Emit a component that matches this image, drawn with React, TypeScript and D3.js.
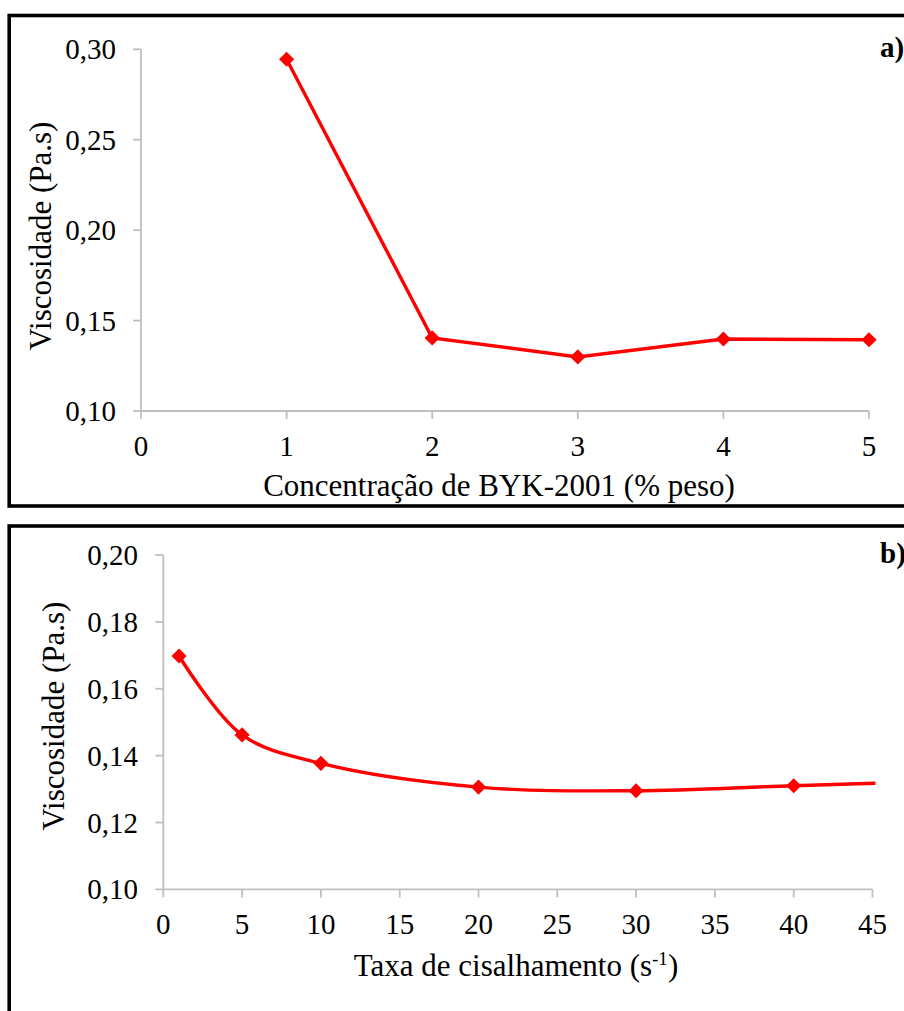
import React from "react";
import * as d3 from "d3";

// Panel a data
const concX: number[] = [1, 2, 3, 4, 5];
const concVisc: number[] = [0.2945, 0.1404, 0.1299, 0.1398, 0.1394];
const aXTicks: number[] = [0, 1, 2, 3, 4, 5];
const aYTicks: number[] = [0.1, 0.15, 0.2, 0.25, 0.3];

// Panel b data
const shearX: number[] = [1, 5, 10, 20, 30, 40, 50];
const shearVisc: number[] = [0.1698, 0.1462, 0.1377, 0.1306, 0.1295, 0.131, 0.1324];
const bXTicks: number[] = [0, 5, 10, 15, 20, 25, 30, 35, 40, 45];
const bYTicks: number[] = [0.1, 0.12, 0.14, 0.16, 0.18, 0.2];

const FONT = "'Liberation Serif', 'Times New Roman', serif";
const AXIS = "#BFBFBF";
const RED = "#FF0000";
const fmt = (v: number) => v.toFixed(2).replace(".", ",");

type PanelProps = {
  xs: number[];
  ys: number[];
  xDomain: [number, number];
  yDomain: [number, number];
  xRange: [number, number];
  yRange: [number, number];
  xTicks: number[];
  yTicks: number[];
  smooth: boolean;
  clipId: string;
  yLabelPos: [number, number];
  yLabelSize: number;
  xTitleY: number;
  xTitleX: number;
  xTitle: React.ReactNode;
  tag: string;
  tagY: number;
  yTickLabelX: number;
};

function Panel(p: PanelProps) {
  const x = d3.scaleLinear().domain(p.xDomain).range(p.xRange);
  const y = d3.scaleLinear().domain(p.yDomain).range(p.yRange);
  const pts: [number, number][] = p.xs.map((v, i) => [x(v), y(p.ys[i])]);
  const line = d3
    .line<[number, number]>()
    .x((d) => d[0])
    .y((d) => d[1])
    .curve(p.smooth ? d3.curveCatmullRom.alpha(0.5) : d3.curveLinear);
  const diamond = d3.symbol().type(d3.symbolSquare).size(115)();
  const [x0, x1] = p.xRange;
  const [yb, yt] = p.yRange;
  return (
    <g>
      <defs>
        <clipPath id={p.clipId}>
          <rect x={x0} y={yt - 10} width={x1 - x0 + 3} height={yb - yt + 10} />
        </clipPath>
      </defs>
      <line x1={x0} x2={x1} y1={yb} y2={yb} stroke={AXIS} strokeWidth={1.8} />
      <line x1={x0} x2={x0} y1={yt} y2={yb} stroke={AXIS} strokeWidth={1.8} />
      {p.yTicks.map((t) => (
        <g key={"y" + t}>
          <line x1={x0 - 8} x2={x0} y1={y(t)} y2={y(t)} stroke={AXIS} strokeWidth={1.8} />
          <text
            x={p.yTickLabelX}
            y={y(t) + 10}
            textAnchor="end"
            fontSize={29}
            fontFamily={FONT}
            fill="#000"
          >
            {fmt(t)}
          </text>
        </g>
      ))}
      {p.xTicks.map((t) => (
        <g key={"x" + t}>
          <line x1={x(t)} x2={x(t)} y1={yb} y2={yb + 8} stroke={AXIS} strokeWidth={1.8} />
          <text
            x={x(t)}
            y={yb + 45}
            textAnchor="middle"
            fontSize={29}
            fontFamily={FONT}
            fill="#000"
          >
            {t}
          </text>
        </g>
      ))}
      <g clipPath={`url(#${p.clipId})`}>
        <path d={line(pts) || ""} fill="none" stroke={RED} strokeWidth={3.4} />
      </g>
      {pts
        .filter((d) => d[0] <= x1 + 0.5)
        .map((d, i) => (
          <path
            key={"m" + i}
            d={diamond || ""}
            transform={`translate(${d[0]},${d[1]}) rotate(45)`}
            fill={RED}
          />
        ))}
      <text
        transform={`translate(${p.yLabelPos[0]},${p.yLabelPos[1]}) rotate(-90)`}
        textAnchor="middle"
        fontSize={p.yLabelSize}
        fontFamily={FONT}
        fill="#000"
      >
        Viscosidade (Pa.s)
      </text>
      <text
        x={p.xTitleX}
        y={p.xTitleY}
        textAnchor="middle"
        fontSize={31}
        fontFamily={FONT}
        fill="#000"
      >
        {p.xTitle}
      </text>
      <text
        x={880}
        y={p.tagY}
        fontSize={29}
        fontWeight="bold"
        fontFamily={FONT}
        fill="#000"
      >
        {p.tag}
      </text>
    </g>
  );
}

export default function App() {
  return (
    <svg
      width={904}
      height={1011}
      style={{ position: "absolute", left: 0, top: 0, background: "#fff" }}
    >
      <rect x={0} y={0} width={904} height={1011} fill="#fff" />
      <rect x={9.2} y={15.5} width={940} height={490.5} fill="none" stroke="#000" strokeWidth={3.6} />
      <rect x={9.2} y={526} width={940} height={520} fill="none" stroke="#000" strokeWidth={3.6} />
      <Panel
        xs={concX}
        ys={concVisc}
        xDomain={[0, 5]}
        yDomain={[0.1, 0.3]}
        xRange={[141, 869]}
        yRange={[411, 49.3]}
        xTicks={aXTicks}
        yTicks={aYTicks}
        smooth={false}
        clipId="clipA"
        yLabelPos={[51, 236]}
        yLabelSize={31}
        xTitleX={499}
        xTitleY={496}
        xTitle={"Concentração de BYK-2001 (% peso)"}
        tag="a)"
        tagY={57}
        yTickLabelX={116}
      />
      <Panel
        xs={shearX}
        ys={shearVisc}
        xDomain={[0, 45]}
        yDomain={[0.1, 0.2]}
        xRange={[163.3, 872.5]}
        yRange={[889.4, 555]}
        xTicks={bXTicks}
        yTicks={bYTicks}
        smooth={true}
        clipId="clipB"
        yLabelPos={[64, 716]}
        yLabelSize={31}
        xTitleX={516}
        xTitleY={976}
        xTitle={
          <>
            Taxa de cisalhamento (s
            <tspan fontSize={19} dy={-11}>-1</tspan>
            <tspan dy={11}>)</tspan>
          </>
        }
        tag="b)"
        tagY={563}
        yTickLabelX={138}
      />
    </svg>
  );
}
